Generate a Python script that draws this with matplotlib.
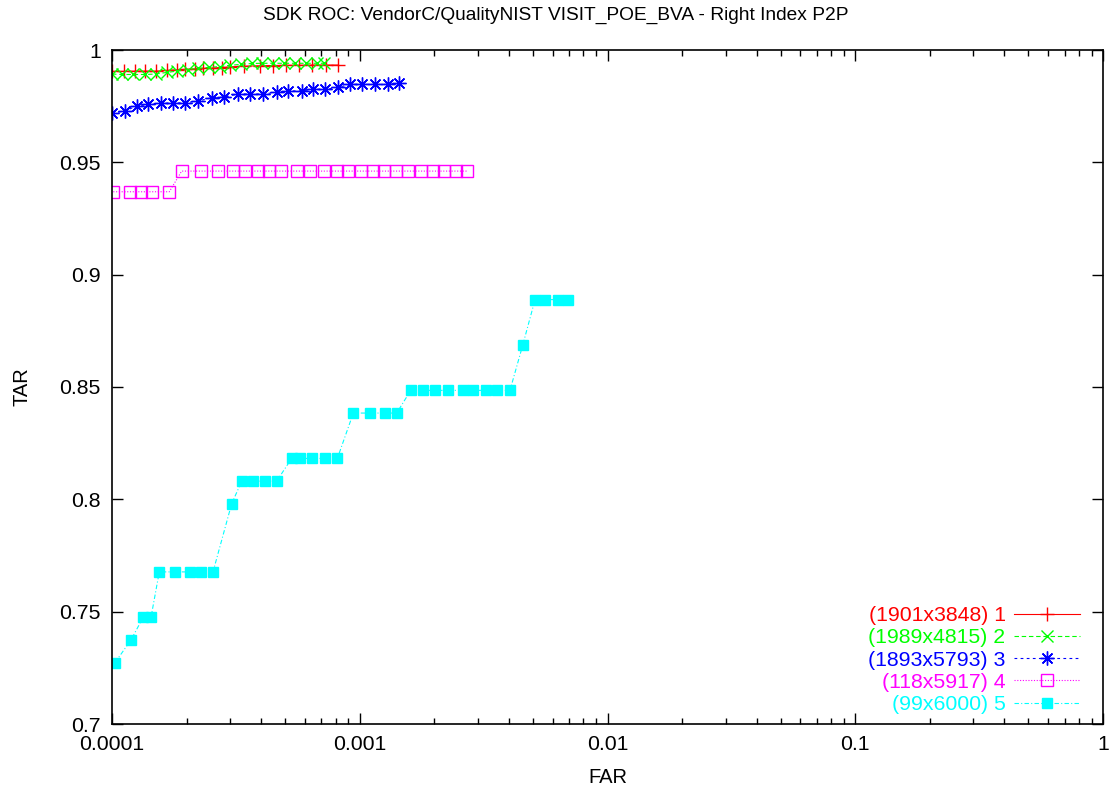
import matplotlib
matplotlib.use("Agg")
import matplotlib.pyplot as plt
from matplotlib.ticker import LogLocator, FixedLocator, NullFormatter

plt.rcParams['font.family'] = ['Liberation Sans', 'DejaVu Sans']

title = "SDK ROC: VendorC/QualityNIST VISIT_POE_BVA - Right Index P2P"
x_label = "FAR"
y_label = "TAR"
labels = ["(1901x3848) 1", "(1989x4815) 2", "(1893x5793) 3", "(118x5917) 4", "(99x6000) 5"]
colors = ["#ff0000", "#00ff00", "#0000ff", "#ff00ff", "#00ffff"]

far1 = [1.00e-4, 1.12e-4, 1.24e-4, 1.36e-4, 1.51e-4, 1.67e-4, 1.83e-4, 1.98e-4, 2.16e-4, 2.33e-4,
        2.55e-4, 2.78e-4, 3.00e-4, 3.40e-4, 3.95e-4, 4.48e-4, 5.05e-4, 5.70e-4, 6.40e-4, 7.30e-4, 8.20e-4]
tar1 = [0.9905, 0.9905, 0.9906, 0.9906, 0.9906, 0.9909, 0.9912, 0.9914, 0.9916, 0.9918,
        0.9920, 0.9922, 0.9925, 0.9928, 0.9930, 0.9931, 0.9932, 0.9932, 0.9933, 0.9933, 0.9933]

far2 = [1.00e-4, 1.10e-4, 1.22e-4, 1.36e-4, 1.50e-4, 1.66e-4, 1.83e-4, 2.02e-4, 2.23e-4, 2.46e-4,
        2.72e-4, 3.00e-4, 3.32e-4, 3.67e-4, 4.05e-4, 4.48e-4, 4.95e-4, 5.47e-4, 6.05e-4, 6.70e-4, 7.20e-4]
tar2 = [0.9893, 0.9891, 0.9891, 0.9891, 0.9893, 0.9900, 0.9906, 0.9913, 0.9918, 0.9923,
        0.9926, 0.9932, 0.9936, 0.9940, 0.9941, 0.9941, 0.9941, 0.9941, 0.9941, 0.9941, 0.9941]

far3 = [1.00e-4, 1.13e-4, 1.26e-4, 1.40e-4, 1.58e-4, 1.77e-4, 1.97e-4, 2.23e-4, 2.53e-4, 2.84e-4,
        3.22e-4, 3.61e-4, 4.08e-4, 4.62e-4, 5.15e-4, 5.83e-4, 6.50e-4, 7.24e-4, 8.19e-4, 9.13e-4,
        1.024e-3, 1.152e-3, 1.297e-3, 1.444e-3]
tar3 = [0.9718, 0.9729, 0.9751, 0.9758, 0.9763, 0.9763, 0.9765, 0.9773, 0.9788, 0.9790,
        0.9804, 0.9804, 0.9804, 0.9812, 0.9818, 0.9818, 0.9825, 0.9825, 0.9834, 0.9847,
        0.9847, 0.9847, 0.9847, 0.9852]

far4 = [1.012e-4, 1.182e-4, 1.310e-4, 1.446e-4, 1.703e-4, 1.911e-4, 2.280e-4, 2.687e-4, 3.07e-4,
        3.44e-4, 3.87e-4, 4.30e-4, 4.80e-4, 5.57e-4, 6.30e-4, 7.19e-4, 8.07e-4, 8.99e-4, 1.012e-3,
        1.134e-3, 1.257e-3, 1.401e-3, 1.570e-3, 1.767e-3, 1.970e-3, 2.194e-3, 2.446e-3, 2.702e-3]
tar4 = [0.9369, 0.9369, 0.9369, 0.9369, 0.9369, 0.9461, 0.9461, 0.9461, 0.9461,
        0.9461, 0.9461, 0.9461, 0.9461, 0.9461, 0.9461, 0.9461, 0.9461, 0.9461, 0.9461,
        0.9461, 0.9461, 0.9461, 0.9461, 0.9461, 0.9461, 0.9461, 0.9461, 0.9461]

far5 = [1.028e-4, 1.193e-4, 1.336e-4, 1.437e-4, 1.552e-4, 1.801e-4, 2.058e-4, 2.293e-4, 2.557e-4,
        3.04e-4, 3.34e-4, 3.70e-4, 4.15e-4, 4.62e-4, 5.31e-4, 5.74e-4, 6.43e-4, 7.24e-4, 8.12e-4,
        9.42e-4, 1.100e-3, 1.264e-3, 1.41e-3, 1.606e-3, 1.806e-3, 2.013e-3, 2.278e-3, 2.604e-3,
        2.873e-3, 3.234e-3, 3.592e-3, 4.04e-3, 4.55e-3, 5.10e-3, 5.59e-3, 6.33e-3, 6.95e-3]
tar5 = [0.7273, 0.7374, 0.7475, 0.7475, 0.7677, 0.7677, 0.7677, 0.7677, 0.7677,
        0.7980, 0.8081, 0.8081, 0.8081, 0.8081, 0.8182, 0.8182, 0.8182, 0.8182, 0.8182,
        0.8384, 0.8384, 0.8384, 0.8384, 0.8485, 0.8485, 0.8485, 0.8485, 0.8485,
        0.8485, 0.8485, 0.8485, 0.8485, 0.8687, 0.8889, 0.8889, 0.8889, 0.8889]

x_ticks = [1e-4, 1e-3, 1e-2, 1e-1, 1]
x_tick_labels = ["0.0001", "0.001", "0.01", "0.1", "1"]
y_ticks = [0.7, 0.75, 0.8, 0.85, 0.9, 0.95, 1.0]
y_tick_labels = ["0.7", "0.75", "0.8", "0.85", "0.9", "0.95", "1"]

fig = plt.figure(figsize=(11.12, 7.94), dpi=100)
ax = fig.add_axes([112 / 1112, 1 - 724 / 794, (1103 - 112) / 1112, (724 - 50) / 794])

series = [(far1, tar1), (far2, tar2), (far3, tar3), (far4, tar4), (far5, tar5)]
styles = [
    dict(linestyle='-', marker='+', markersize=10, mew=1.0),
    dict(linestyle=(0, (4, 2.5)), marker='x', markersize=8, mew=1.0),
    dict(linestyle=(0, (2.5, 3)), marker=(8, 2, 0), markersize=10, mew=1.0),
    dict(linestyle=(0, (1, 1.5)), marker='s', markersize=8, mew=1.0, markerfacecolor='none'),
    dict(linestyle=(0, (4, 2, 1, 2)), marker='s', markersize=7.5, mew=1.0),
]
for (fx, ty), lab, c, st in zip(series, labels, colors, styles):
    ax.plot(fx, ty, color=c, label=lab, linewidth=0.8, **st)

ax.set_xscale('log')
ax.set_xlim(1e-4, 1)
ax.set_ylim(0.7, 1.0)
ax.xaxis.set_major_locator(FixedLocator(x_ticks))
ax.set_xticklabels(x_tick_labels)
ax.xaxis.set_minor_locator(LogLocator(base=10, subs=range(2, 10)))
ax.xaxis.set_minor_formatter(NullFormatter())
ax.set_yticks(y_ticks)
ax.set_yticklabels(y_tick_labels)

fs_tick = 15.3
fs_lab = 14.5
ax.tick_params(axis='both', which='major', direction='in', length=8, width=1.0,
               top=True, right=True, labelsize=fs_tick, pad=8)
ax.tick_params(axis='x', which='minor', direction='in', length=4, width=1.0, top=True, bottom=True)
for s in ax.spines.values():
    s.set_linewidth(1.2)

ax.set_xlabel(x_label, fontsize=fs_lab, labelpad=10)
ax.set_ylabel(y_label, fontsize=fs_lab, labelpad=20)
fig.text(0.5, 1 - 15 / 794, title, ha='center', va='center', fontsize=13.8)

leg = ax.legend(loc='lower right', bbox_to_anchor=(0.995, -0.012), markerfirst=False, frameon=False,
                fontsize=fs_tick, handlelength=3.1, labelspacing=0.15, handletextpad=0.4,
                borderaxespad=0.45)
for t, c in zip(leg.get_texts(), colors):
    t.set_color(c)

fig.savefig("out.png", dpi=100)
